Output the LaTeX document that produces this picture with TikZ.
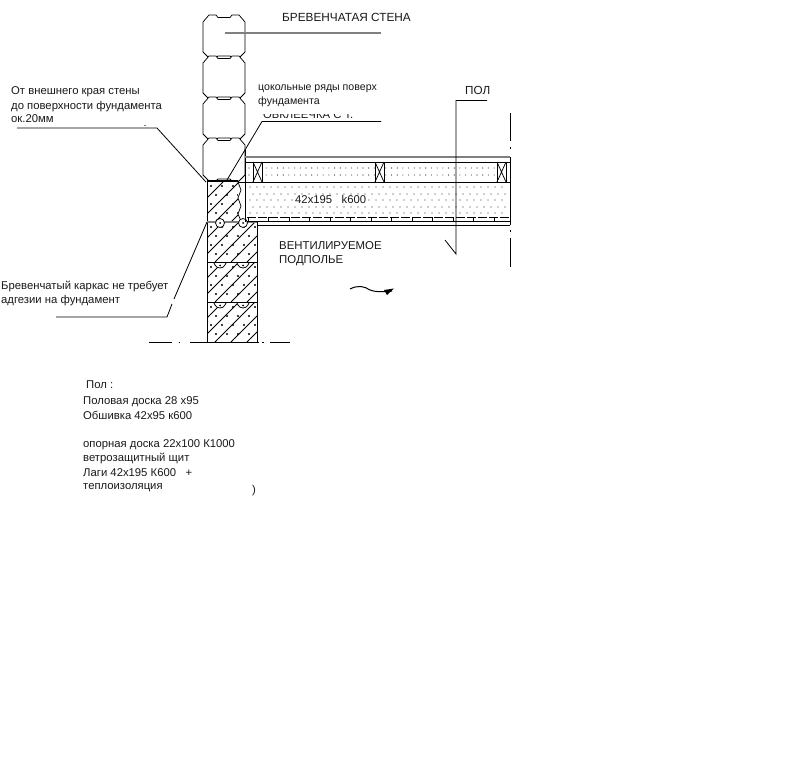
\documentclass[tikz,border=0pt]{standalone}
\usepackage{fontspec}
\setmainfont{Liberation Sans}
\tikzset{
  lbl/.style={anchor=base west,inner sep=0pt,font=\fontsize{11.4}{13}\selectfont,text=black!90},
  lbls/.style={lbl,font=\fontsize{11.3}{13}\selectfont},
  lblc/.style={lbl,font=\fontsize{10.6}{13}\selectfont},
  ldr/.style={draw=black,line width=0.8pt},
  gld/.style={draw=black!50,line width=1.5pt},
  thin1/.style={draw=black,line width=0.75pt},
}
\newcommand{\logshape}[1]{%
  \draw[thin1,fill=white,shift={(203,#1)}] (0,7) -- (6,0) -- (13,0) -- (15,2.5) -- (27,2.5) -- (29,0) -- (36,0) -- (42,7)
   -- (42,37) -- (36,43) -- (29,43) -- (27,41) -- (15,41) -- (13,43) -- (6,43) -- (0,37) -- cycle;}
\newcommand{\hatchblock}[4]{%
  \begin{scope}
  \clip (#1,#2) rectangle (#3,#4);
  \foreach \k in {0,16,...,160} {\draw[thin1] (#1-40+\k,#4) -- (#1+\k,#4-40);}
  \foreach \i in {0,...,4} \foreach \j in {0,...,4} {
    \fill ({#1+4+\i*11+mod(\j,2)*5},{#2+5+\j*9}) circle (1.05);}
  \end{scope}
  \draw[thin1] (#1,#2) rectangle (#3,#4);}
\begin{document}
\begin{tikzpicture}[x=1pt,y=-1pt]
\useasboundingbox (0,0) rectangle (790,768);
\fill[white] (0,0) rectangle (790,768);
\logshape{15}\logshape{56}\logshape{97}\logshape{138}
% foundation
\hatchblock{207}{181}{238}{222}
\hatchblock{207}{222}{257}{262}
\hatchblock{207}{262}{257}{302}
\hatchblock{207}{302}{257}{342}
\fill[white] (238.4,182) rectangle (245,221);
\draw[line width=2pt] (207,181) -- (238,181);
\draw[thin1] (238,182) -- (241,190) -- (238,198) -- (241,206) -- (238,214) -- (241,221);
\draw[gld] (207,222) -- (257,222);
\foreach \cx in {220,243} {\draw[thin1,fill=white] (\cx,223) circle (4.5);\fill (\cx,223) circle (1);}
\foreach \cy in {263,303} \foreach \cx in {220,243} {
  \draw[thin1,fill=white] (\cx-6,\cy) -- (\cx-5,\cy+2) .. controls (\cx-3,\cy+6) and (\cx+3,\cy+6) .. (\cx+5,\cy+2) -- (\cx+6,\cy);
  \fill (\cx,\cy+2.5) circle (1);}
% floor
\draw[thin1] (245,150) -- (245,222);
\draw[gld] (245,157) -- (510,157);
\draw[thin1] (245,162) -- (510,162);
\draw[thin1] (238,182) -- (510,182);
\draw[thin1] (257,225) -- (510,225);
\draw[thin1] (247,221) -- (510,221);
\foreach \y in {168,175} \foreach \x in {249,254.7,...,508} {\fill[black!85] (\x,\y) circle (0.55);}
\foreach \y/\s in {187/250,194/253,200/250,207/253,213/250} \foreach \x in {0,7,...,258} {\fill[black!80] (\s+\x,\y) circle (0.6);}
\foreach \bx in {253,375,497} {
  \draw[thin1,fill=white] (\bx,162) rectangle (\bx+9,182);
  \draw[thin1] (\bx,162) -- (\bx+9,182) (\bx+9,162) -- (\bx,182);}
\draw[thin1,dash pattern=on 9pt off 2pt] (247,217) -- (510,217);
\foreach \x in {248,268.5,...,510} {\draw[thin1] (\x,217) -- (\x,221);}
% right break line
\draw[thin1] (510,113) -- (510,141) (510,147) -- (510,149) (510,157) -- (510,225) (510,230) -- (510,232) (510,238) -- (510,267);
% ground
\draw[thin1] (149,342) -- (172,342) (178.5,342) -- (180,342) (190,342) -- (207,342) (257,342) -- (259,342) (262,342) -- (263.5,342) (270,342) -- (290,342);
% leaders
\coordinate (wl1) at (225,33); \coordinate (wl2) at (381,33);
\draw[gld] (wl1) -- (wl2);
\draw[ldr] (381,121.5) -- (262,121.5) -- (227,180);
\draw[ldr] (17,128) -- (157,128) -- (206,182);
\fill (145,125.5) circle (0.7);
\draw[ldr] (56,317) -- (167,317) -- (172,304) (174,299) -- (207,222);
\draw[ldr] (487,100.5) -- (456,100.5) -- (456,254) -- (445,240);
% squiggle arrow
\draw[line width=1pt] (350,289) .. controls (358,285) and (364,286) .. (370,290) .. controls (375,292) and (380,292) .. (392,291);
\fill (394,288.5) -- (384,290) -- (387,295) -- cycle;
% labels
\node[lbl,font=\fontsize{11.8}{13}\selectfont] (t1) at (282,22) {БРЕВЕНЧАТАЯ СТЕНА};
\node[lblc] (t2) at (258,90) {цокольные ряды поверх};
\node[lblc] (t3) at (258,104) {фундамента};
\node[lbls] (t4) at (11,95) {От внешнего края стены};
\node[lbls] (t5) at (11,109) {до поверхности фундамента};
\node[lbls] (t6) at (11,122) {ок.20мм};
\node[lbl,font=\fontsize{11.7}{13}\selectfont] (t7) at (465,94) {ПОЛ};
\node[lbls,fill=white] (t8) at (295,203) {42x195\ \ \ k600};
\node[lbl] (t9) at (279,249) {ВЕНТИЛИРУЕМОЕ};
\node[lbl] (t10) at (279,263) {ПОДПОЛЬЕ};
\node[lbls] (t11) at (1,289) {Бревенчатый каркас не требует};
\node[lbls] (t12) at (1,303) {адгезии на фундамент};
\node[lbls] (t13) at (86,388) {Пол :};
\node[lbls] (t14) at (83,404) {Половая доска 28 x95};
\node[lbls] (t15) at (83,419) {Обшивка 42x95 к600};
\node[lbls] (t16) at (83,447) {опорная доска 22x100 К1000};
\node[lbls] (t17) at (83,461) {ветрозащитный щит};
\node[lbls] (t18) at (83,476) {Лаги 42x195 К600\ \ \ +};
\node[lbls] (t19) at (83,489) {теплоизоляция};
\node[lbls] (t20) at (252,493) {)};
\begin{scope}
\clip (250,114.5) rectangle (390,118.5);
\node[lbls] (t21) at (263,118.5) {ОБКЛЕЕЧКА С Т.};
\end{scope}
\end{tikzpicture}
\end{document}
